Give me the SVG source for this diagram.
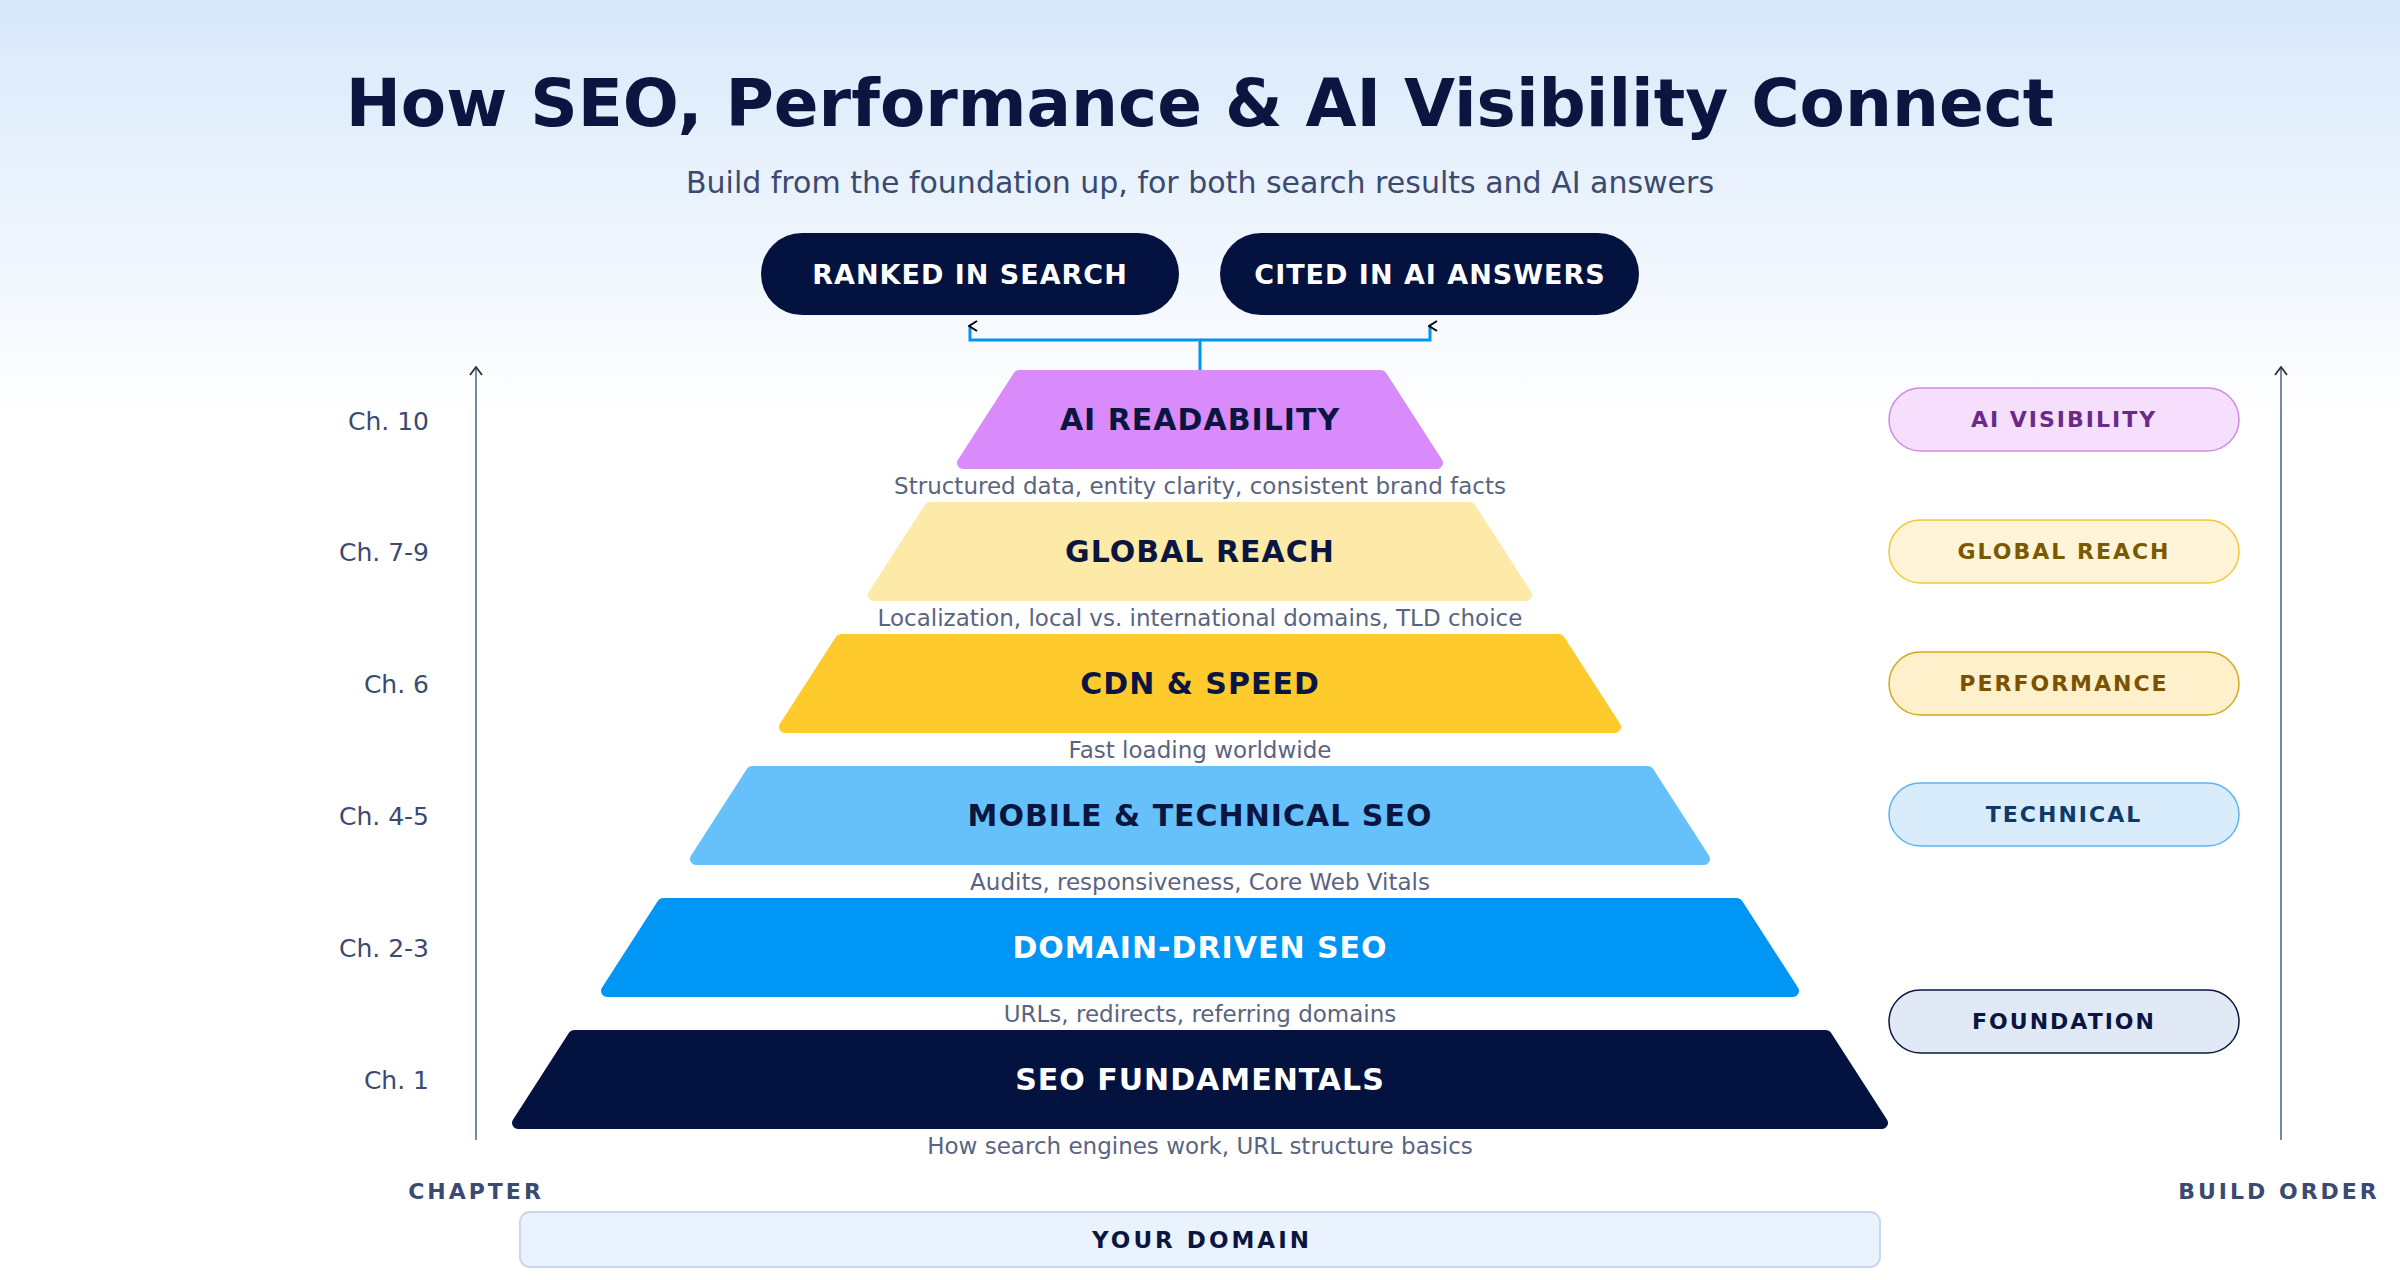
<svg xmlns="http://www.w3.org/2000/svg" width="2400" height="1280" viewBox="0 0 2400 1280">
<defs>
<linearGradient id="bg" x1="0" y1="0" x2="0" y2="1"><stop offset="0" stop-color="#d8e8fa"/><stop offset="0.33" stop-color="#ffffff"/><stop offset="1" stop-color="#ffffff"/></linearGradient>
<marker id="ah" viewBox="0 0 12 10" refX="6" refY="2" markerWidth="12" markerHeight="10" markerUnits="userSpaceOnUse" orient="auto-start-reverse"><path d="M1,9 L6,1 L11,9" fill="none" stroke="#000" stroke-width="2"/></marker>
<marker id="ax" viewBox="0 0 14 10" refX="7" refY="1" markerWidth="14" markerHeight="10" markerUnits="userSpaceOnUse"><path d="M1,9 L7,1 L13,9" fill="none" stroke="#333" stroke-width="1.8"/></marker>
</defs>
<style>
text{font-family:"DejaVu Sans","Liberation Sans",sans-serif}
.tier{stroke-linejoin:round;stroke-width:12}
.tl{font-size:30px;font-weight:bold;text-anchor:middle;letter-spacing:1px}
.desc{font-size:23px;fill:#5a6480;text-anchor:middle}
.ch{font-size:25px;fill:#3b4a70;text-anchor:end}
.tag{stroke-width:1.5}
.tt{font-size:22px;font-weight:bold;text-anchor:middle;letter-spacing:2px}
.ax{font-size:22px;font-weight:bold;fill:#3b4a70;text-anchor:middle;letter-spacing:3px}
</style>
<rect width="2400" height="1280" fill="url(#bg)"/>
<text x="1200" y="126" font-size="66" font-weight="bold" fill="#0a1640" text-anchor="middle">How SEO, Performance &amp; AI Visibility Connect</text>
<text x="1200" y="193" font-size="30" fill="#3b4a70" text-anchor="middle">Build from the foundation up, for both search results and AI answers</text>

<g id="outcomes">
<g id="ranked"><rect x="761" y="233" width="418" height="82" rx="41" fill="#04123f"/><text x="970" y="284" font-size="27" font-weight="bold" fill="#fff" text-anchor="middle" letter-spacing="1">RANKED IN SEARCH</text></g>
<g id="cited"><rect x="1220" y="233" width="419" height="82" rx="41" fill="#04123f"/><text x="1430" y="284" font-size="27" font-weight="bold" fill="#fff" text-anchor="middle" letter-spacing="1">CITED IN AI ANSWERS</text></g>
</g>

<g id="connectors" fill="none">
<path d="M1200,370 V340 H970 V326" stroke="#0096f0" stroke-width="3" marker-end="url(#ah)"/>
<path d="M1200,340 H1430 V326" stroke="#0096f0" stroke-width="3" marker-end="url(#ah)"/>
<line x1="476" y1="1140" x2="476" y2="367" stroke="#7a88a8" stroke-width="2" marker-end="url(#ax)"/>
<line x1="2281" y1="1140" x2="2281" y2="367" stroke="#7a88a8" stroke-width="2" marker-end="url(#ax)"/>
</g>

<g id="tier-ai"><polygon class="tier" points="1019,376 1381,376 1437,463 963,463" fill="#d98bfc" stroke="#d98bfc"/><text class="tl" x="1200" y="430" fill="#0a1640">AI READABILITY</text><text class="desc" x="1200" y="494">Structured data, entity clarity, consistent brand facts</text></g>
<g id="tier-global"><polygon class="tier" points="930,508 1470,508 1526,595 874,595" fill="#fde9a8" stroke="#fde9a8"/><text class="tl" x="1200" y="562" fill="#0a1640">GLOBAL REACH</text><text class="desc" x="1200" y="626">Localization, local vs. international domains, TLD choice</text></g>
<g id="tier-cdn"><polygon class="tier" points="841,640 1559,640 1615,727 785,727" fill="#ffca2c" stroke="#ffca2c"/><text class="tl" x="1200" y="694" fill="#0a1640">CDN &amp; SPEED</text><text class="desc" x="1200" y="758">Fast loading worldwide</text></g>
<g id="tier-mobile"><polygon class="tier" points="752,772 1648,772 1704,859 696,859" fill="#66c1fa" stroke="#66c1fa"/><text class="tl" x="1200" y="826" fill="#0a1640">MOBILE &amp; TECHNICAL SEO</text><text class="desc" x="1200" y="890">Audits, responsiveness, Core Web Vitals</text></g>
<g id="tier-domain"><polygon class="tier" points="663,904 1737,904 1793,991 607,991" fill="#0096f5" stroke="#0096f5"/><text class="tl" x="1200" y="958" fill="#ffffff">DOMAIN-DRIVEN SEO</text><text class="desc" x="1200" y="1022">URLs, redirects, referring domains</text></g>
<g id="tier-seo"><polygon class="tier" points="574,1036 1826,1036 1882,1123 518,1123" fill="#04123f" stroke="#04123f"/><text class="tl" x="1200" y="1090" fill="#ffffff">SEO FUNDAMENTALS</text><text class="desc" x="1200" y="1154">How search engines work, URL structure basics</text></g>

<g id="chapters">
<text class="ch" x="429" y="430">Ch. 10</text>
<text class="ch" x="429" y="561">Ch. 7-9</text>
<text class="ch" x="429" y="693">Ch. 6</text>
<text class="ch" x="429" y="825">Ch. 4-5</text>
<text class="ch" x="429" y="957">Ch. 2-3</text>
<text class="ch" x="429" y="1089">Ch. 1</text>
<text class="ax" x="476" y="1199">CHAPTER</text>
<text class="ax" x="2279" y="1199">BUILD ORDER</text>
</g>

<g id="tag-ai"><rect class="tag" x="1889" y="388" width="350" height="63" rx="31.5" fill="#f5dffd" stroke="#d08ae8"/><text class="tt" x="2064" y="427" fill="#6b2a8a">AI VISIBILITY</text></g>
<g id="tag-global"><rect class="tag" x="1889" y="520" width="350" height="63" rx="31.5" fill="#fff4d8" stroke="#f0c83c"/><text class="tt" x="2064" y="559" fill="#7a5a00">GLOBAL REACH</text></g>
<g id="tag-perf"><rect class="tag" x="1889" y="652" width="350" height="63" rx="31.5" fill="#fff0cc" stroke="#d4a820"/><text class="tt" x="2064" y="691" fill="#7a5200">PERFORMANCE</text></g>
<g id="tag-tech"><rect class="tag" x="1889" y="783" width="350" height="63" rx="31.5" fill="#d9ecfc" stroke="#5cb4ec"/><text class="tt" x="2064" y="822" fill="#0e3a6a">TECHNICAL</text></g>
<g id="tag-found"><rect class="tag" x="1889" y="990" width="350" height="63" rx="31.5" fill="#e2e9f6" stroke="#0a1640"/><text class="tt" x="2064" y="1029" fill="#0a1640">FOUNDATION</text></g>

<g id="your-domain"><rect x="520" y="1212" width="1360" height="55" rx="10" fill="#eaf2fe" stroke="#c8d8ee" stroke-width="2"/><text x="1202" y="1248" font-size="23" font-weight="bold" fill="#0a1640" text-anchor="middle" letter-spacing="3">YOUR DOMAIN</text></g>
</svg>
